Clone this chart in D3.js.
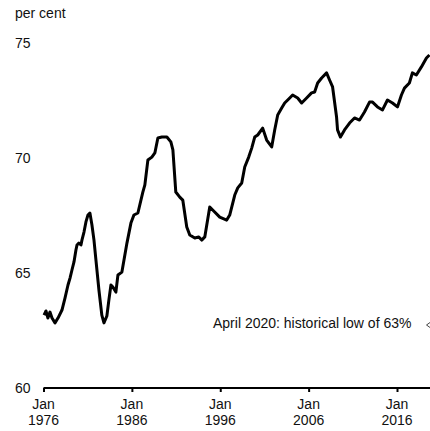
<!DOCTYPE html>
<html>
<head>
<meta charset="utf-8">
<script src="https://cdn.jsdelivr.net/npm/d3@7"></script>
<style>
  body { margin: 0; background: #fff; }
  svg { display: block; font-family: "Liberation Sans", Arial, sans-serif; }
</style>
</head>
<body>
<svg id="chart" width="430" height="431"></svg>
<script>
// months as decimal years, values in per cent
var years = [
  1976.06, 1976.28, 1976.5, 1976.73, 1976.96, 1977.3, 1977.64, 1978.09, 1978.43, 1978.77,
  1979.0, 1979.22, 1979.45, 1979.67, 1979.79, 1980.0, 1980.24, 1980.35, 1980.58, 1980.8,
  1981.03, 1981.25, 1981.48, 1981.71, 1981.93, 1982.27, 1982.6, 1982.84, 1983.17, 1983.4,
  1983.63, 1983.85, 1984.19, 1984.42, 1984.87, 1985.44, 1985.89, 1986.23, 1986.68, 1987.24,
  1987.47, 1987.81, 1988.26, 1988.6, 1988.94, 1989.39, 1989.96, 1990.41, 1990.64, 1990.97,
  1991.42, 1991.76, 1992.21, 1992.55, 1993.12, 1993.57, 1993.9, 1994.25, 1994.81, 1995.37,
  1995.94, 1996.73, 1997.07, 1997.64, 1997.98, 1998.43, 1998.77, 1999.22, 1999.56, 1999.9,
  2000.24, 2000.8, 2001.25, 2001.82, 2002.16, 2002.5, 2002.95, 2003.29, 2003.86, 2004.19,
  2004.76, 2005.21, 2005.77, 2006.33, 2006.68, 2007.02, 2007.47, 2008.03, 2008.37, 2008.71,
  2009.16, 2009.27, 2009.6, 2010.06, 2010.63, 2011.19, 2011.76, 2012.32, 2012.89, 2013.23,
  2013.79, 2014.36, 2014.92, 2015.49, 2016.05, 2016.5, 2016.84, 2017.4, 2017.74, 2018.19,
  2018.76, 2019.33, 2019.67
];
var rate = [
  63.17, 63.35, 63.04, 63.30, 63.04, 62.83, 63.04, 63.39, 63.91, 64.48,
  64.78, 65.13, 65.48, 66.00, 66.22, 66.30, 66.22, 66.43, 66.78, 67.22,
  67.52, 67.61, 67.09, 66.43, 65.57, 64.26, 63.17, 62.83, 63.13, 63.83,
  64.48, 64.39, 64.17, 64.91, 65.04, 66.30, 67.17, 67.52, 67.61, 68.52,
  68.83, 69.91, 70.04, 70.22, 70.87, 70.91, 70.91, 70.70, 70.35, 68.52,
  68.30, 68.17, 67.00, 66.65, 66.52, 66.57, 66.43, 66.57, 67.87, 67.65,
  67.43, 67.30, 67.52, 68.39, 68.70, 68.91, 69.61, 70.04, 70.43, 70.91,
  71.00, 71.30, 70.78, 70.48, 71.22, 71.87, 72.17, 72.39, 72.61, 72.74,
  72.61, 72.39, 72.61, 72.83, 72.87, 73.26, 73.48, 73.70, 73.39, 73.09,
  71.78, 71.22, 70.91, 71.22, 71.52, 71.74, 71.65, 72.00, 72.43, 72.43,
  72.22, 72.09, 72.52, 72.39, 72.22, 72.74, 73.04, 73.26, 73.70, 73.61,
  73.96, 74.35, 74.48
];
var yTicks = [60, 65, 70, 75];
var xTicks = [1976, 1986, 1996, 2006, 2016];
var note = "April 2020: historical low of 63%";

function toDate(y) {
  var yr = Math.floor(y);
  var d = new Date(yr, 0, 1);
  return new Date(+d + (y - yr) * (new Date(yr + 1, 0, 1) - d));
}

var svg = d3.select("#chart");

var x = d3.scaleTime()
  .domain([new Date(1976, 0, 1), new Date(2016, 0, 1)])
  .range([43.5, 397]);
var y = d3.scaleLinear().domain([60, 75]).range([388, 43]);

svg.append("text")
  .attr("x", 15).attr("y", 13).attr("dy", "0.35em")
  .style("font-size", "14px").attr("fill", "#111")
  .text("per cent");

svg.selectAll(".ylab")
  .data(yTicks).enter().append("text")
  .attr("class", "ylab")
  .attr("x", 15).attr("y", function(d) { return y(d); }).attr("dy", "0.35em")
  .style("font-size", "14px").attr("fill", "#111")
  .text(function(d) { return d; });

// x axis
var xAxis = d3.axisBottom(x)
  .tickValues(xTicks.map(function(t) { return new Date(t, 0, 1); }))
  .tickSize(4)
  .tickFormat("");
var gx = svg.append("g").attr("transform", "translate(0," + y(60) + ")").call(xAxis);
gx.select(".domain").attr("d", "M43.5,0H430").attr("stroke", "#000").attr("stroke-width", 2);
gx.selectAll(".tick line").attr("stroke", "#000").attr("stroke-width", 2);

var lab = svg.selectAll(".xlab")
  .data(xTicks).enter().append("text")
  .attr("class", "xlab")
  .attr("text-anchor", "middle")
  .attr("transform", function(d) { return "translate(" + x(new Date(d, 0, 1)) + ",0)"; })
  .style("font-size", "14px").attr("fill", "#111");
lab.append("tspan").attr("x", 0).attr("y", 409).text("Jan");
lab.append("tspan").attr("x", 0).attr("y", 425).text(function(d) { return d; });

// the series
var line = d3.line()
  .x(function(d) { return x(toDate(d[0])); })
  .y(function(d) { return y(d[1]); });

svg.append("path")
  .datum(d3.zip(years, rate))
  .attr("d", line)
  .attr("fill", "none")
  .attr("stroke", "#000")
  .attr("stroke-width", 3)
  .attr("stroke-linejoin", "round");

// annotation
svg.append("text")
  .attr("x", 213).attr("y", 323).attr("dy", "0.35em")
  .style("font-size", "14px").attr("fill", "#111")
  .text(note);
svg.append("path")
  .attr("d", "M430,322.5L426.5,325L430,327.5")
  .attr("fill", "none").attr("stroke", "#444").attr("stroke-width", 1);
</script>
</body>
</html>
